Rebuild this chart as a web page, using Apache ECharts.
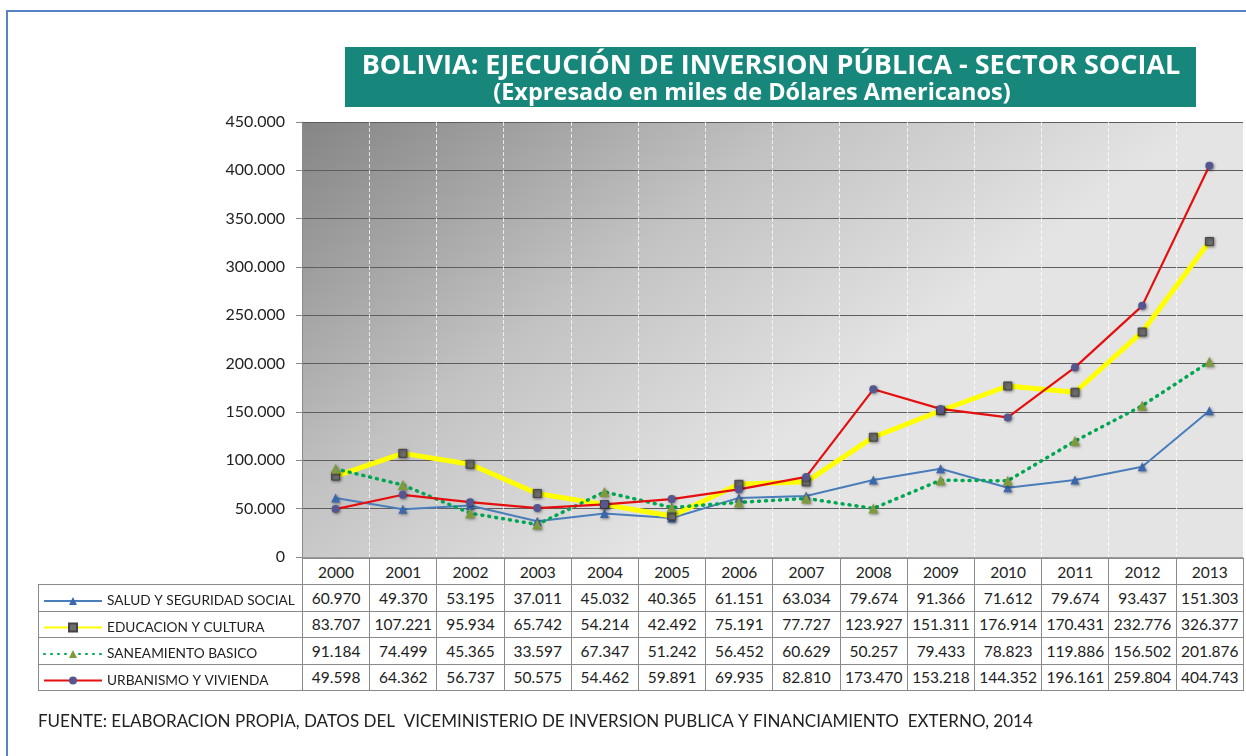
<!DOCTYPE html>
<html><head><meta charset="utf-8">
<script src="https://cdn.jsdelivr.net/npm/echarts@6/dist/echarts.min.js"></script>
<style>
html,body{margin:0;padding:0;background:#fff;}
#frame{position:absolute;left:6px;top:10px;width:1240px;height:746px;border-left:2px solid #5583c4;border-top:2px solid #5583c4;box-sizing:border-box;}
#tbl{position:absolute;left:38px;top:558px;border-collapse:collapse;font-family:Lato,"Open Sans",sans-serif;font-size:15.5px;color:#222;table-layout:fixed;width:1205px;z-index:1;}
#tbl td{border:1px solid #8a8a8a;text-align:center;padding:0;height:25.5px;overflow:hidden;white-space:nowrap;}
#tbl tr.hdr td{height:25px;}
#tbl td.blank{border:none;}
#chart{position:absolute;left:0;top:0;width:1246px;height:756px;z-index:2;}
</style>
</head><body>
<div id="frame"></div>
<table id="tbl"></table>
<div id="chart"></div>
<script>
const years = ['2000','2001','2002','2003','2004','2005','2006','2007','2008','2009','2010','2011','2012','2013'];
const seriesNames = ['SALUD Y SEGURIDAD SOCIAL','EDUCACION Y CULTURA','SANEAMIENTO BASICO','URBANISMO Y VIVIENDA'];
const salud = [60.970, 49.370, 53.195, 37.011, 45.032, 40.365, 61.151, 63.034, 79.674, 91.366, 71.612, 79.674, 93.437, 151.303];
const educacion = [83.707, 107.221, 95.934, 65.742, 54.214, 42.492, 75.191, 77.727, 123.927, 151.311, 176.914, 170.431, 232.776, 326.377];
const saneamiento = [91.184, 74.499, 45.365, 33.597, 67.347, 51.242, 56.452, 60.629, 50.257, 79.433, 78.823, 119.886, 156.502, 201.876];
const urbanismo = [49.598, 64.362, 56.737, 50.575, 54.462, 59.891, 69.935, 82.810, 173.470, 153.218, 144.352, 196.161, 259.804, 404.743];
const yTicks = [0, 50, 100, 150, 200, 250, 300, 350, 400, 450];
const titleLine1 = 'BOLIVIA: EJECUCIÓN DE INVERSION PÚBLICA - SECTOR SOCIAL';
const titleLine2 = '(Expresado en miles de Dólares Americanos)';
const sourceText = 'FUENTE: ELABORACION PROPIA, DATOS DEL  VICEMINISTERIO DE INVERSION PUBLICA Y FINANCIAMIENTO  EXTERNO, 2014';

const fmt = v => v === 0 ? '0' : v.toFixed(3);

// build data table (numbers) in HTML
const allData = [salud, educacion, saneamiento, urbanismo];
const tbl = document.getElementById('tbl');
let html = '<colgroup><col style="width:264px">' + years.map(()=>'<col style="width:67.21px">').join('') + '</colgroup>';
html += '<tr class="hdr"><td class="blank"></td>' + years.map(y=>'<td>'+y+'</td>').join('') + '</tr>';
allData.forEach((arr)=>{
  html += '<tr><td></td>' + arr.map(v=>'<td>'+fmt(v)+'</td>').join('') + '</tr>';
});
tbl.innerHTML = html;

const chart = echarts.init(document.getElementById('chart'), null, {renderer:'canvas'});
const shadow = {shadowColor:'rgba(0,0,0,0.45)', shadowBlur:3, shadowOffsetX:1, shadowOffsetY:1};
const option = {
  animation:false,
  textStyle:{fontFamily:'Lato'},
  grid:{left:302, right:3, top:122, bottom:199, show:true, borderWidth:0,
    backgroundColor:new echarts.graphic.LinearGradient(0,0,0.35,1,[
      {offset:0,color:'#858585'},{offset:0.55,color:'#c2c2c2'},{offset:1,color:'#e4e4e4'}])},
  xAxis:{type:'category', data:years, boundaryGap:true,
    axisLine:{show:true, lineStyle:{color:'#9a9a9a'}}, axisTick:{show:false}, axisLabel:{show:false},
    splitLine:{show:true, lineStyle:{color:'rgba(255,255,255,0.75)', type:'dashed', width:1}}},
  yAxis:{type:'value', min:0, max:450, interval:50,
    axisLine:{show:true, lineStyle:{color:'#8a8a8a'}},
    axisTick:{show:true, length:6, lineStyle:{color:'#8a8a8a'}},
    axisLabel:{color:'#222', fontSize:16, fontFamily:'Lato', margin:17, formatter:v=>fmt(v)},
    splitLine:{show:true, lineStyle:{color:'#5e5e5e', width:1}}},
  legend:{orient:'vertical', left:38, top:589, itemWidth:58, itemHeight:10, itemGap:12.5,
    textStyle:{fontFamily:'Lato', fontSize:13.7, lineHeight:14, color:'#222', padding:[0,0,0,0]},
    data:seriesNames},
  series:[
    {name:seriesNames[0], type:'line', data:salud, symbol:'triangle', symbolSize:9,
     lineStyle:{color:'#4a7ebb', width:2}, itemStyle:Object.assign({color:'#3b68ad'}, shadow)},
    {name:seriesNames[1], type:'line', data:educacion, symbol:'rect', symbolSize:8,
     lineStyle:{color:'#ffff00', width:5}, itemStyle:Object.assign({color:'#6e6e6e', borderColor:'#444', borderWidth:1}, shadow)},
    {name:seriesNames[2], type:'line', data:saneamiento, symbol:'triangle', symbolSize:10,
     lineStyle:{color:'#00a651', width:3.5, type:[1,6], cap:'round'}, itemStyle:Object.assign({color:'#7f9a3e'}, shadow)},
    {name:seriesNames[3], type:'line', data:urbanismo, symbol:'circle', symbolSize:8,
     lineStyle:{color:'#e60f0f', width:2.2}, itemStyle:Object.assign({color:'#55558f'}, shadow)}
  ],
  graphic:[
    {type:'rect', left:345, top:47, shape:{width:851, height:60}, style:{fill:'#17877b'}},
    {type:'text', x:771, y:66, style:{text:titleLine1, fill:'#fff', font:'bold 27px "Open Sans"', align:'center', verticalAlign:'middle'}},
    {type:'text', x:752, y:93, style:{text:titleLine2, fill:'#fff', font:'bold 23.5px "Open Sans"', align:'center', verticalAlign:'middle'}},
    {type:'text', left:38, top:713, style:{text:sourceText, fill:'#222', font:'17px Lato', whiteSpace:'pre'}}
  ]
};
chart.setOption(option);
</script>
</body></html>
